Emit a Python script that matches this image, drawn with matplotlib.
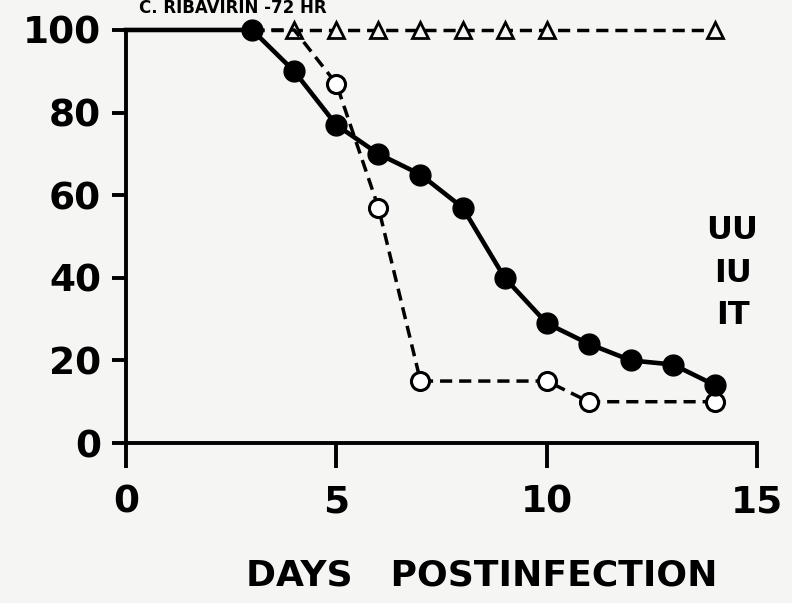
import matplotlib
matplotlib.use("Agg")
import matplotlib.pyplot as plt

# Data
uu_days = [0, 3, 4, 5, 6, 7, 8, 9, 10, 11, 12, 13, 14]
uu_vals = [100, 100, 90, 77, 70, 65, 57, 40, 29, 24, 20, 19, 14]

iu_days = [3, 4, 5, 6, 7, 10, 11, 14]
iu_vals = [100, 100, 87, 57, 15, 15, 10, 10]

it_days = [3, 4, 5, 6, 7, 8, 9, 10, 14]
it_vals = [100, 100, 100, 100, 100, 100, 100, 100, 100]

x_ticks = [0, 5, 10, 15]
y_ticks = [0, 20, 40, 60, 80, 100]
group_labels = ["UU", "IU", "IT"]

bg = "#f5f5f3"
fig = plt.figure(figsize=(7.92, 6.03), dpi=100, facecolor=bg)
ax = fig.add_axes([0.159, 0.2653, 0.797, 0.685], facecolor=bg)

ax.plot(it_days, it_vals, ls=(0, (3.5, 2)), color="black", lw=2.5,
        marker="^", markersize=12, markerfacecolor=bg, markeredgewidth=2,
        markevery=list(range(1, len(it_days))), clip_on=False, zorder=2)
ax.plot(iu_days, iu_vals, ls=(0, (3.5, 2)), color="black", lw=2.5,
        marker="o", markersize=13, markerfacecolor="white", markeredgewidth=2.2,
        markevery=list(range(2, len(iu_days))), clip_on=False, zorder=3)
ax.plot(uu_days, uu_vals, ls="-", color="black", lw=3.3,
        marker="o", markersize=15, markerfacecolor="black",
        markevery=list(range(1, len(uu_days))), clip_on=False, zorder=4)

ax.set_xlim(0, 15)
ax.set_ylim(0, 100)
ax.set_xticks(x_ticks)
ax.set_yticks(y_ticks)
ax.set_xticklabels([str(t) for t in x_ticks])
ax.set_yticklabels([str(t) for t in y_ticks])
for s in ["top", "right"]:
    ax.spines[s].set_visible(False)
for s in ["left", "bottom"]:
    ax.spines[s].set_linewidth(2.8)
ax.tick_params(axis="y", direction="out", length=10, width=2.8, pad=8,
               labelsize=27)
ax.tick_params(axis="x", direction="out", length=18, width=2.8, pad=12,
               labelsize=27)
for lab in ax.get_xticklabels() + ax.get_yticklabels():
    lab.set_fontweight("bold")

ax.set_xlabel("DAYS   POSTINFECTION", fontsize=26, fontweight="bold")
ax.xaxis.set_label_coords(0.563, -0.28)

for i, g in enumerate(group_labels):
    fig.text(0.925, 0.618 - i * 0.071, g, fontsize=23, fontweight="bold",
             ha="center", va="center")

fig.text(0.175, 0.972, "C. RIBAVIRIN -72 HR", fontsize=12,
         fontweight="bold", ha="left", va="bottom")

fig.savefig("out.png", dpi=100, facecolor=bg)
